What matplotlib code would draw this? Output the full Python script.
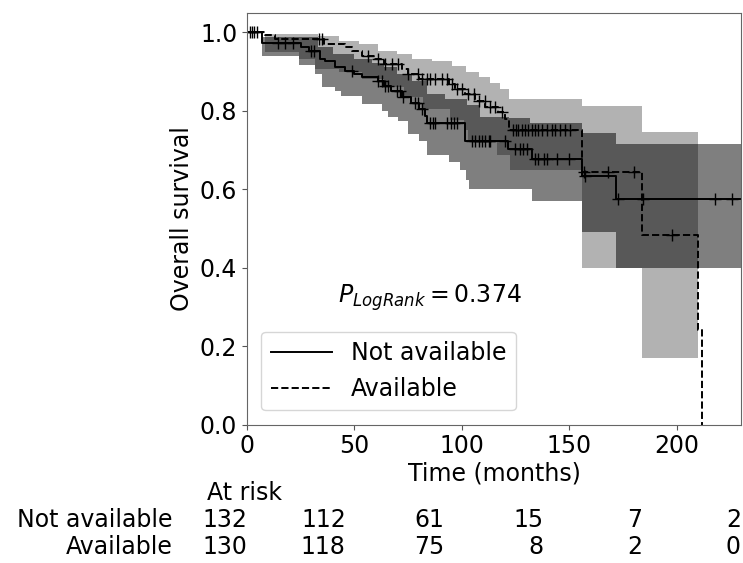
"""
Kaplan-Meier overall survival: Not available vs Available
with confidence bands, censor ticks and an at-risk table.
"""

import numpy as np
import matplotlib
matplotlib.use('Agg')
import matplotlib.pyplot as plt
from matplotlib.transforms import blended_transform_factory

# ============================================================================
# DATA
# ============================================================================
GROUPS = ['Not available', 'Available']

# survival step curves (time in months, survival)
NA_T = [0, 7, 25, 29, 34, 36.5, 41, 45.5, 50, 53.5, 61, 64, 67, 72, 76.5, 80, 83, 84,
        101.5, 121.5, 132.5, 156, 172, 230]
NA_S = [1.0, 0.972, 0.962, 0.952, 0.932, 0.926, 0.911, 0.902, 0.894, 0.885, 0.877, 0.864,
        0.851, 0.834, 0.821, 0.804, 0.787, 0.770, 0.723, 0.702, 0.678, 0.633, 0.574, 0.574]

AV_T = [0, 8.5, 13, 36, 45.5, 49, 53.5, 59.5, 64, 72, 75, 80, 94, 97, 101.5, 106, 111,
        117, 120, 122, 156, 184, 210, 212]
AV_S = [1.0, 0.992, 0.983, 0.970, 0.962, 0.953, 0.940, 0.932, 0.919, 0.906, 0.894, 0.881,
        0.868, 0.855, 0.843, 0.826, 0.809, 0.796, 0.779, 0.752, 0.643, 0.482, 0.242, 0.0]

# confidence bands (lower / upper), each its own step function
NA_LO_T = [0, 6.8, 24, 31.7, 34.8, 41, 44, 53.4, 62.7, 65.8, 70.5, 75, 80, 83.7, 94, 99,
           102, 103.5, 132.6, 156, 172, 230]
NA_LO = [1.0, 0.940, 0.917, 0.894, 0.860, 0.851, 0.838, 0.817, 0.800, 0.783, 0.773, 0.741,
         0.724, 0.686, 0.670, 0.650, 0.624, 0.600, 0.570, 0.490, 0.400, 0.400]
NA_UP_T = [0, 6.8, 33, 40, 50, 58, 64, 70, 76.7, 83.7, 92, 102.5, 108.6, 122, 132, 156,
           172, 230]
NA_UP = [1.0, 0.989, 0.962, 0.945, 0.932, 0.923, 0.911, 0.894, 0.877, 0.843, 0.830, 0.815,
         0.785, 0.782, 0.769, 0.743, 0.714, 0.714]

AV_LO_T = [0, 8.4, 24, 31.7, 43, 53.4, 64, 73, 82, 94.6, 101, 103, 116.5, 122.5, 156, 184, 210]
AV_LO = [1.0, 0.949, 0.932, 0.906, 0.898, 0.881, 0.860, 0.834, 0.805, 0.777, 0.750, 0.722,
         0.688, 0.650, 0.400, 0.170, 0.170]
AV_UP_T = [0, 8.4, 33, 43, 52, 61, 70, 77, 86, 95.4, 102, 108, 113, 118, 121.8, 156, 184, 210]
AV_UP = [1.0, 0.997, 0.991, 0.979, 0.970, 0.953, 0.945, 0.932, 0.928, 0.915, 0.900, 0.885,
         0.872, 0.855, 0.830, 0.811, 0.745, 0.745]

# censoring times
NA_CENS = [1.5, 3.5, 14.6, 17.7, 21.6, 29.8, 31, 48.8, 61.2, 62.7, 64.3, 65.8, 69.7, 71.3,
           72.8, 78.3, 79.8, 81.4, 85.3, 86.8, 87.6, 93.3, 94.8, 96.4, 97.9, 104.7, 106.2,
           107.8, 109.4, 110.9, 112.5, 113.2, 120.2, 124.8, 127.2, 128.7, 130.3, 134.2,
           135.7, 138.1, 139.6, 144.3, 149.7, 157.5, 172.8, 184.5, 218, 226]
AV_CENS = [2.5, 4.5, 33.5, 35, 56.5, 61.2, 64.3, 67.4, 70.5, 75.2, 79.8, 81.4, 83.7, 85.3,
           87.6, 90.7, 93.0, 95.4, 97.7, 100, 103.1, 105.5, 107.8, 110.9, 113.2, 115.6,
           118.7, 124.0, 125.2, 126.3, 127.9, 129.4, 131.0, 132.6, 134.2, 135.7, 137.3,
           139.6, 141.9, 143.5, 145.8, 148.2, 150.5, 157, 168, 180, 198]

# at-risk table
RISK_TIMES = [0, 46, 92, 138, 184, 230]
NA_RISK = [132, 112, 61, 15, 7, 2]
AV_RISK = [130, 118, 75, 8, 2, 0]

P_LOGRANK = 0.374

FS = 17


def step_at(knots, vals, t):
    idx = np.searchsorted(knots, t, side='right') - 1
    return np.asarray(vals)[np.clip(idx, 0, len(vals) - 1)]


def band(lo_t, lo, up_t, up):
    ts = np.array(sorted(set(lo_t) | set(up_t)))
    return ts, step_at(lo_t, lo, ts), step_at(up_t, up, ts)


# ============================================================================
# PLOT
# ============================================================================
fig = plt.figure(figsize=(7.43, 5.63), dpi=100)
ax = fig.add_axes([0.3324, 0.246, 0.6649, 0.7314])

# confidence bands
ts, lo, hi = band(AV_LO_T, AV_LO, AV_UP_T, AV_UP)
ax.fill_between(ts, lo, hi, step='post', color='k', alpha=0.3, linewidth=0)
ts, lo, hi = band(NA_LO_T, NA_LO, NA_UP_T, NA_UP)
ax.fill_between(ts, lo, hi, step='post', color='k', alpha=0.5, linewidth=0)

# survival curves
ax.step(NA_T, NA_S, where='post', color='k', linewidth=1.4, label=GROUPS[0])
ax.step(AV_T, AV_S, where='post', color='k', linewidth=1.4, linestyle='--', label=GROUPS[1])

# censor ticks
ax.plot(NA_CENS, step_at(NA_T, NA_S, NA_CENS), linestyle='none', marker='+',
        color='k', markersize=9, markeredgewidth=1)
ax.plot(AV_CENS, step_at(AV_T, AV_S, AV_CENS), linestyle='none', marker='+',
        color='k', markersize=9, markeredgewidth=1)

ax.set_xlim(0, 230)
ax.set_ylim(0, 1.05)
ax.set_xticks([0, 50, 100, 150, 200])
ax.set_yticks([0.0, 0.2, 0.4, 0.6, 0.8, 1.0])
ax.set_yticklabels(['0.0', '0.2', '0.4', '0.6', '0.8', '1.0'])
ax.tick_params(labelsize=FS, colors='#555555', labelcolor='k')
for spine in ax.spines.values():
    spine.set_color('#666666')

ax.set_xlabel('Time (months)', fontsize=FS, labelpad=2)
ax.set_ylabel('Overall survival', fontsize=FS)

ax.text(0.37, 0.307, r'$P_{LogRank} = %.3f$' % P_LOGRANK, transform=ax.transAxes,
        fontsize=FS, ha='center', va='center')

ax.legend(loc='lower left', fontsize=FS, handlelength=2.6, borderaxespad=0.6)

# ============================================================================
# AT-RISK TABLE
# ============================================================================
tr = blended_transform_factory(ax.transData, fig.transFigure)
fig.text(0.2786, 0.1243, 'At risk', fontsize=FS, ha='left', va='center')
for row_y, name, counts in [(0.0764, GROUPS[0], NA_RISK), (0.0284, GROUPS[1], AV_RISK)]:
    fig.text(0.2328, row_y, name, fontsize=FS, ha='right', va='center')
    for t, n in zip(RISK_TIMES, counts):
        ax.text(t, row_y, str(n), transform=tr, fontsize=FS, ha='right', va='center',
                clip_on=False)

fig.savefig('out.png', dpi=100)
